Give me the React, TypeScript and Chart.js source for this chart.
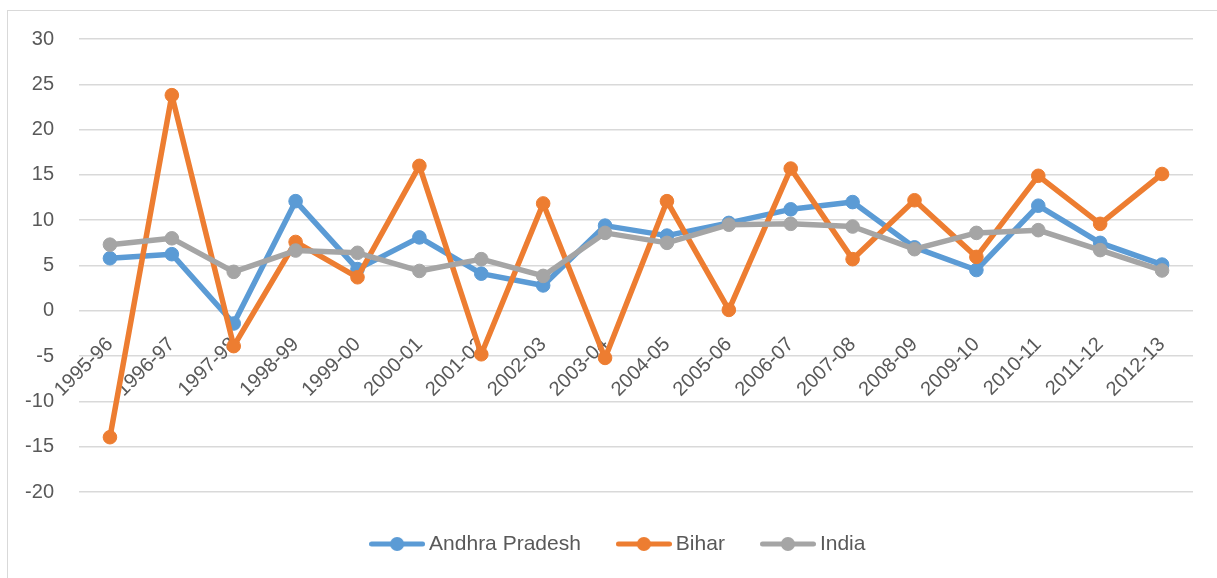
import React, { useEffect, useRef } from "react";
import { Chart, registerables } from "chart.js";

Chart.register(...registerables);

const categories = [
  "1995-96", "1996-97", "1997-98", "1998-99", "1999-00", "2000-01",
  "2001-02", "2002-03", "2003-04", "2004-05", "2005-06", "2006-07",
  "2007-08", "2008-09", "2009-10", "2010-11", "2011-12", "2012-13",
];

const andhraPradesh = [5.8, 6.25, -1.4, 12.1, 4.6, 8.1, 4.1, 2.8, 9.4, 8.3, 9.7, 11.2, 12.0, 7.0, 4.5, 11.6, 7.5, 5.1];
const bihar = [-13.95, 23.8, -3.9, 7.6, 3.7, 16.0, -4.8, 11.85, -5.2, 12.1, 0.1, 15.7, 5.7, 12.2, 5.95, 14.9, 9.6, 15.1];
const india = [7.3, 8.0, 4.3, 6.65, 6.4, 4.4, 5.7, 3.85, 8.6, 7.5, 9.5, 9.6, 9.3, 6.8, 8.6, 8.9, 6.7, 4.45];

const seriesNames = ["Andhra Pradesh", "Bihar", "India"];
const seriesColors = ["#5B9BD5", "#ED7D31", "#A5A5A5"];
const seriesValues = [andhraPradesh, bihar, india];

const yMin = -20;
const yMax = 30;
const yStep = 5;

const FONT = "'Liberation Sans', Arial, sans-serif";
const TEXT_COLOR = "#595959";

function makeLegendMarker(color: string): HTMLCanvasElement {
  const c = document.createElement("canvas");
  c.width = 56;
  c.height = 16;
  const ctx = c.getContext("2d")!;
  ctx.strokeStyle = color;
  ctx.fillStyle = color;
  ctx.lineWidth = 5;
  ctx.lineCap = "round";
  ctx.beginPath();
  ctx.moveTo(2.5, 8);
  ctx.lineTo(53.5, 8);
  ctx.stroke();
  ctx.beginPath();
  ctx.arc(28, 8, 7, 0, Math.PI * 2);
  ctx.fill();
  return c;
}

export default function App() {
  const ref = useRef<HTMLCanvasElement>(null);

  useEffect(() => {
    if (!ref.current) return;
    const markers = seriesColors.map((c) => makeLegendMarker(c));
    const chart = new Chart(ref.current, {
      type: "line",
      data: {
        labels: categories,
        datasets: seriesNames.map((name, i) => ({
          label: name,
          data: seriesValues[i],
          borderColor: seriesColors[i],
          backgroundColor: seriesColors[i],
          pointBackgroundColor: seriesColors[i],
          pointBorderColor: seriesColors[i],
          borderWidth: 5.5,
          pointRadius: 6.8,
          pointBorderWidth: 1,
          pointHoverRadius: 6.8,
          borderCapStyle: "round",
          borderJoinStyle: "round",
          tension: 0,
          fill: false,
          clip: false,
          yAxisID: "y",
          order: seriesNames.length - i,
        })),
      },
      options: {
        animation: false,
        responsive: false,
        maintainAspectRatio: false,
        layout: { padding: { left: 24, right: 0, top: 39, bottom: 13.5 } },
        scales: {
          x: {
            type: "category",
            position: { y: 0 } as any,
            offset: true,
            grid: { display: false, drawTicks: false },
            border: { display: false },
            ticks: {
              autoSkip: false,
              minRotation: 45,
              maxRotation: 45,
              padding: 22,
              color: TEXT_COLOR,
              font: { family: FONT, size: 20 },
            },
            afterFit: (s: any) => {
              s.height = 0;
            },
          },
          y: {
            position: "left",
            min: yMin,
            max: yMax,
            ticks: {
              stepSize: yStep,
              padding: 25,
              color: TEXT_COLOR,
              font: { family: FONT, size: 20 },
              callback: (v: any) => String(v),
            },
            grid: { color: "#d9d9d9", lineWidth: 1.5, drawTicks: false },
            border: { display: false },
            afterFit: (s: any) => {
              s.width = 55;
            },
          },
          yRight: {
            type: "linear",
            position: "right",
            display: true,
            ticks: { display: false },
            grid: { display: false, drawTicks: false },
            border: { display: false },
            afterFit: (s: any) => {
              s.width = 24;
            },
          },
        },
        plugins: {
          tooltip: { enabled: false },
          legend: {
            position: "bottom",
            labels: {
              usePointStyle: true,
              pointStyleWidth: 43,
              padding: 41.5,
              color: TEXT_COLOR,
              font: { family: FONT, size: 21 },
              generateLabels: () =>
                seriesNames.map((name, i) => ({
                  text: name,
                  fillStyle: seriesColors[i],
                  strokeStyle: seriesColors[i],
                  lineWidth: 0,
                  pointStyle: markers[i] as any,
                  fontColor: TEXT_COLOR,
                  hidden: false,
                  datasetIndex: i,
                  rotation: 0,
                })),
            },
          },
        },
      },
    });
    return () => chart.destroy();
  }, []);

  return (
    <div
      style={{
        position: "fixed",
        left: 0,
        top: 0,
        width: 1217,
        height: 578,
        overflow: "hidden",
        background: "#ffffff",
      }}
    >
      <div
        style={{
          position: "absolute",
          left: 7,
          top: 10,
          width: 1220,
          height: 580,
          border: "1px solid #d9d9d9",
        }}
      />
      <canvas
        ref={ref}
        width={1217}
        height={578}
        style={{ position: "absolute", left: 0, top: 0 }}
      />
    </div>
  );
}
